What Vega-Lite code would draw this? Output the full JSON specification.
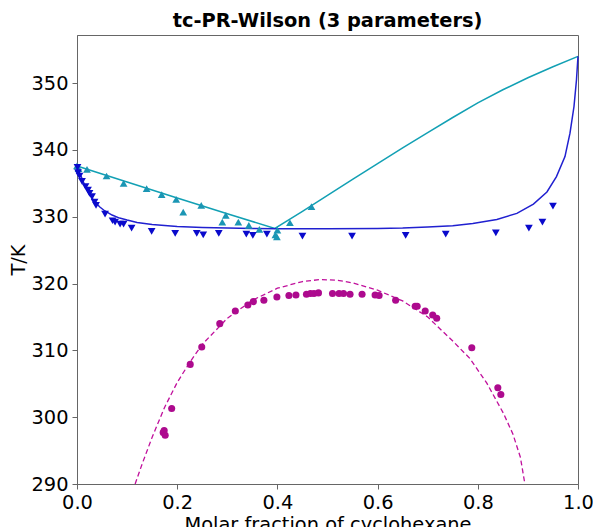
{
  "$schema": "https://vega.github.io/schema/vega-lite/v6.json",
  "width": 501,
  "height": 449,
  "autosize": {"type": "none"},
  "padding": {"left": 77, "top": 35, "right": 15, "bottom": 43},
  "background": "white",
  "title": {"text": "tc-PR-Wilson (3 parameters)", "font": "DejaVu Sans", "fontSize": 19.4, "fontWeight": "bold", "color": "#000", "offset": 4, "anchor": "middle"},
  "datasets": {
    "dew_line": [
      {"x": 0.0, "T": 337.6}, {"x": 0.1, "T": 335.2}, {"x": 0.2, "T": 332.8}, {"x": 0.3, "T": 330.45}, {"x": 0.395, "T": 328.25},
      {"x": 0.45, "T": 330.8}, {"x": 0.5, "T": 333.2}, {"x": 0.55, "T": 335.6}, {"x": 0.6, "T": 337.95}, {"x": 0.65, "T": 340.3},
      {"x": 0.7, "T": 342.6}, {"x": 0.75, "T": 344.85}, {"x": 0.8, "T": 347.05}, {"x": 0.85, "T": 349.0}, {"x": 0.9, "T": 350.8},
      {"x": 0.95, "T": 352.45}, {"x": 1.0, "T": 354.0}
    ],
    "bubble_line": [
      {"x": 0.0, "T": 337.6}, {"x": 0.005, "T": 336.6}, {"x": 0.01, "T": 335.7}, {"x": 0.017, "T": 334.4}, {"x": 0.025, "T": 333.3},
      {"x": 0.035, "T": 332.3}, {"x": 0.045, "T": 331.5}, {"x": 0.055, "T": 330.9}, {"x": 0.07, "T": 330.25}, {"x": 0.085, "T": 329.8},
      {"x": 0.1, "T": 329.5}, {"x": 0.12, "T": 329.15}, {"x": 0.15, "T": 328.85}, {"x": 0.2, "T": 328.55}, {"x": 0.25, "T": 328.4},
      {"x": 0.3, "T": 328.3}, {"x": 0.35, "T": 328.25}, {"x": 0.4, "T": 328.2}, {"x": 0.5, "T": 328.2}, {"x": 0.6, "T": 328.25},
      {"x": 0.65, "T": 328.3}, {"x": 0.7, "T": 328.45}, {"x": 0.75, "T": 328.65}, {"x": 0.79, "T": 329.0}, {"x": 0.838, "T": 329.6},
      {"x": 0.878, "T": 330.5}, {"x": 0.911, "T": 331.9}, {"x": 0.938, "T": 333.7}, {"x": 0.957, "T": 336.0}, {"x": 0.974, "T": 339.0},
      {"x": 0.984, "T": 342.5}, {"x": 0.992, "T": 346.5}, {"x": 0.997, "T": 350.5}, {"x": 1.0, "T": 354.0}
    ],
    "lle_line": [
      {"x": 0.116, "T": 290.0}, {"x": 0.13, "T": 293.0}, {"x": 0.15, "T": 297.0}, {"x": 0.175, "T": 301.5}, {"x": 0.2, "T": 305.2},
      {"x": 0.225, "T": 308.2}, {"x": 0.25, "T": 310.9}, {"x": 0.3, "T": 314.8}, {"x": 0.35, "T": 317.5}, {"x": 0.4, "T": 319.3},
      {"x": 0.45, "T": 320.3}, {"x": 0.485, "T": 320.6}, {"x": 0.52, "T": 320.5}, {"x": 0.55, "T": 320.1}, {"x": 0.6, "T": 319.0},
      {"x": 0.65, "T": 317.4}, {"x": 0.7, "T": 315.0}, {"x": 0.75, "T": 311.4}, {"x": 0.784, "T": 308.8}, {"x": 0.818, "T": 305.1},
      {"x": 0.851, "T": 300.6}, {"x": 0.87, "T": 297.5}, {"x": 0.885, "T": 294.0}, {"x": 0.894, "T": 290.0}
    ],
    "dew_points": [
      {"x": 0.0, "T": 337.6}, {"x": 0.003, "T": 337.2}, {"x": 0.02, "T": 337.1}, {"x": 0.059, "T": 336.1}, {"x": 0.093, "T": 335.0},
      {"x": 0.139, "T": 334.2}, {"x": 0.169, "T": 333.3}, {"x": 0.198, "T": 332.6}, {"x": 0.212, "T": 330.7}, {"x": 0.248, "T": 331.7},
      {"x": 0.297, "T": 330.2}, {"x": 0.29, "T": 329.2}, {"x": 0.322, "T": 329.2}, {"x": 0.343, "T": 328.7}, {"x": 0.364, "T": 328.1},
      {"x": 0.396, "T": 327.3}, {"x": 0.399, "T": 327.0}, {"x": 0.4, "T": 328.0}, {"x": 0.425, "T": 329.1}, {"x": 0.468, "T": 331.5}
    ],
    "bubble_points": [
      {"x": 0.001, "T": 337.4}, {"x": 0.002, "T": 336.6}, {"x": 0.005, "T": 336.1}, {"x": 0.01, "T": 335.3}, {"x": 0.017, "T": 334.5},
      {"x": 0.022, "T": 334.0}, {"x": 0.025, "T": 333.5}, {"x": 0.03, "T": 333.0}, {"x": 0.035, "T": 332.2}, {"x": 0.038, "T": 331.7},
      {"x": 0.056, "T": 330.4}, {"x": 0.071, "T": 329.4}, {"x": 0.076, "T": 329.2}, {"x": 0.086, "T": 328.9}, {"x": 0.093, "T": 328.9},
      {"x": 0.109, "T": 328.3}, {"x": 0.149, "T": 327.8}, {"x": 0.196, "T": 327.5}, {"x": 0.239, "T": 327.5}, {"x": 0.252, "T": 327.3},
      {"x": 0.283, "T": 327.5}, {"x": 0.338, "T": 327.4}, {"x": 0.351, "T": 327.2}, {"x": 0.379, "T": 327.4}, {"x": 0.45, "T": 327.1},
      {"x": 0.549, "T": 327.1}, {"x": 0.656, "T": 327.2}, {"x": 0.736, "T": 327.4}, {"x": 0.836, "T": 327.6}, {"x": 0.902, "T": 328.3},
      {"x": 0.929, "T": 329.2}, {"x": 0.95, "T": 331.6}
    ],
    "lle_points": [
      {"x": 0.172, "T": 297.7}, {"x": 0.174, "T": 298.0}, {"x": 0.176, "T": 297.3}, {"x": 0.189, "T": 301.3}, {"x": 0.226, "T": 307.9},
      {"x": 0.249, "T": 310.5}, {"x": 0.285, "T": 314.0}, {"x": 0.316, "T": 315.9}, {"x": 0.341, "T": 316.8}, {"x": 0.352, "T": 317.3},
      {"x": 0.373, "T": 317.5}, {"x": 0.399, "T": 318.0}, {"x": 0.423, "T": 318.2}, {"x": 0.437, "T": 318.3}, {"x": 0.458, "T": 318.4},
      {"x": 0.466, "T": 318.5}, {"x": 0.473, "T": 318.5}, {"x": 0.482, "T": 318.6}, {"x": 0.51, "T": 318.5}, {"x": 0.523, "T": 318.5},
      {"x": 0.532, "T": 318.5}, {"x": 0.545, "T": 318.4}, {"x": 0.569, "T": 318.4}, {"x": 0.595, "T": 318.3}, {"x": 0.603, "T": 318.2},
      {"x": 0.636, "T": 317.5}, {"x": 0.675, "T": 316.6}, {"x": 0.679, "T": 316.6}, {"x": 0.695, "T": 315.9}, {"x": 0.71, "T": 315.3},
      {"x": 0.718, "T": 314.8}, {"x": 0.788, "T": 310.4}, {"x": 0.84, "T": 304.4}, {"x": 0.846, "T": 303.4}
    ]
  },
  "layer": [
    {
      "data": {"name": "dew_line"},
      "mark": {"type": "line", "color": "#12a0b4", "strokeWidth": 1.5},
      "encoding": {
        "x": {"field": "x", "type": "quantitative", "scale": {"domain": [0, 1], "nice": false, "zero": false},
              "axis": {"values": [0, 0.2, 0.4, 0.6, 0.8, 1.0], "format": ".1f", "title": "Molar fraction of cyclohexane", "labelFlush": false, "titlePadding": 4}},
        "y": {"field": "T", "type": "quantitative", "scale": {"domain": [290, 357.2], "nice": false, "zero": false},
              "axis": {"values": [290, 300, 310, 320, 330, 340, 350], "title": "T/K", "titlePadding": 2}}
      }
    },
    {
      "data": {"name": "bubble_line"},
      "mark": {"type": "line", "color": "#2020d0", "strokeWidth": 1.5},
      "encoding": {
        "x": {"field": "x", "type": "quantitative"},
        "y": {"field": "T", "type": "quantitative"}
      }
    },
    {
      "data": {"name": "lle_line"},
      "mark": {"type": "line", "color": "#c0109c", "strokeWidth": 1.3, "strokeDash": [5, 3]},
      "encoding": {
        "x": {"field": "x", "type": "quantitative"},
        "y": {"field": "T", "type": "quantitative"}
      }
    },
    {
      "data": {"name": "dew_points"},
      "mark": {"type": "point", "shape": "triangle-up", "filled": true, "opacity": 1, "color": "#1b96b4", "size": 60},
      "encoding": {
        "x": {"field": "x", "type": "quantitative"},
        "y": {"field": "T", "type": "quantitative"}
      }
    },
    {
      "data": {"name": "bubble_points"},
      "mark": {"type": "point", "shape": "triangle-down", "filled": true, "opacity": 1, "color": "#0a0acc", "size": 60},
      "encoding": {
        "x": {"field": "x", "type": "quantitative"},
        "y": {"field": "T", "type": "quantitative"}
      }
    },
    {
      "data": {"name": "lle_points"},
      "mark": {"type": "point", "shape": "circle", "filled": true, "opacity": 1, "color": "#ad0a8e", "size": 50},
      "encoding": {
        "x": {"field": "x", "type": "quantitative"},
        "y": {"field": "T", "type": "quantitative"}
      }
    }
  ],
  "config": {
    "view": {"stroke": "#666", "strokeWidth": 1},
    "axis": {
      "grid": false,
      "domainColor": "#666",
      "tickColor": "#666",
      "tickSize": 5,
      "labelPadding": 4,
      "labelFont": "DejaVu Sans",
      "labelFontSize": 19.4,
      "labelColor": "#000",
      "titleFont": "DejaVu Sans",
      "titleFontSize": 19.4,
      "titleFontWeight": "normal",
      "titleColor": "#000"
    }
  }
}
